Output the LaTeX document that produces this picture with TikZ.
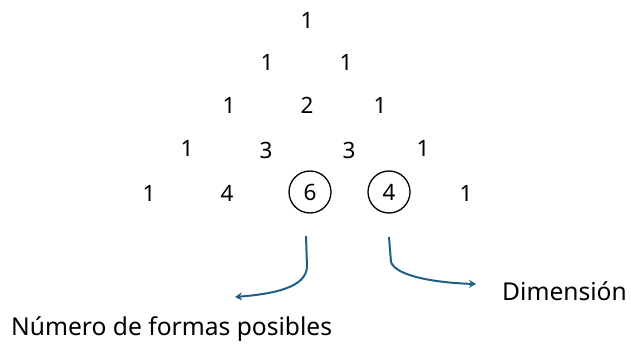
\documentclass[tikz,border=0pt]{standalone}
\usepackage{fontspec}
\setmainfont{Noto Sans}
\usetikzlibrary{arrows.meta}
\definecolor{arrowblue}{RGB}{30,96,130}
\tikzset{
  num/.style={inner sep=0pt, font=\fontsize{22.5}{22}\selectfont},
  ringed/.style={num, draw, circle, line width=1.3pt, minimum size=42pt},
  lbl/.style={inner sep=0pt, font=\fontsize{24.6}{24}\selectfont},
  pointer/.style={draw=arrowblue, line width=2pt, -{Stealth[length=7pt,width=8pt]}}
}
\begin{document}
\begin{tikzpicture}[x=1pt,y=-1pt]
  \useasboundingbox (0,0) rectangle (631,347);
  % Pascal's triangle, rows 0 to 4
  \node[num] (r0a) at (307,20) {1};
  \node[num] (r1a) at (267,62) {1};
  \node[num] (r1b) at (346,62) {1};
  \node[num] (r2a) at (229,105) {1};
  \node[num] (r2b) at (307,105) {2};
  \node[num] (r2c) at (380,105) {1};
  \node[num] (r3a) at (187,148) {1};
  \node[num] (r3b) at (266,150) {3};
  \node[num] (r3c) at (349,150) {3};
  \node[num] (r3d) at (423,148) {1};
  \node[num] (r4a) at (149,193) {1};
  \node[num] (r4b) at (227,193) {4};
  \node[ringed] (r4c) at (310,192) {6};
  \node[ringed] (r4d) at (389,192) {4};
  \node[num] (r4e) at (466,193) {1};
  % labels
  \node[lbl, anchor=west] (dim) at (502,291) {Dimensión};
  \node[lbl, anchor=west] (ways) at (11,329) {Número de formas posibles};
  % pointers: start below the ringed entries, bend towards the labels
  \coordinate (sixtop) at (306,236);
  \coordinate (sixbend) at (307,266);
  \coordinate (sixtip) at (235,297);
  \coordinate (fourtop) at (389,237);
  \coordinate (fourbend) at (391,262);
  \coordinate (fourtip) at (476,284);
  \draw[pointer] (sixtop) -- (sixbend)
    .. controls (307,288) and (272,294) .. (sixtip);
  \draw[pointer] (fourtop) -- (fourbend)
    .. controls (396,277) and (440,283) .. (fourtip);
\end{tikzpicture}
\end{document}
